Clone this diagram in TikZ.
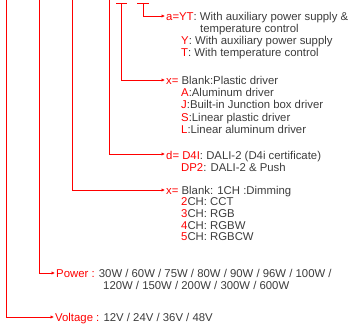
\documentclass[tikz,border=0pt]{standalone}
\usepackage{fontspec}
\setmainfont{Liberation Sans}
\usetikzlibrary{arrows.meta}
\definecolor{lred}{RGB}{255,0,0}
\definecolor{tgrey}{RGB}{60,60,60}
\newcommand{\R}[1]{\textcolor{lred}{#1}}
\tikzset{
  txt/.style={anchor=base west, inner sep=0pt, text=tgrey, font=\fontsize{11.35bp}{12bp}\selectfont},
  lead/.style={draw=lred, line width=1bp},
  leadarrow/.style={lead, -{Latex[length=3.5bp,width=3.5bp]}}
}
\begin{document}
\begin{tikzpicture}[x=1bp,y=-1bp]
\useasboundingbox (0,0) rectangle (351,329);
% start points
\coordinate (s6) at (6,0);
\coordinate (s5) at (39,0);
\coordinate (s4) at (72,0);
\coordinate (s3) at (109,0);
\coordinate (s2) at (121.5,3);
\coordinate (s1) at (143,3);
% tick marks
\coordinate (k1a) at (116,3);
\coordinate (k1b) at (127,3);
\coordinate (k2a) at (137,3);
\coordinate (k2b) at (149,3);
\draw[lead] (k1a) -- (k1b);
\draw[lead] (k2a) -- (k2b);
% arrow tips
\coordinate (e1) at (165,16);
\coordinate (e2) at (165,80);
\coordinate (e3) at (165,154);
\coordinate (e4) at (165,190);
\coordinate (e5) at (55,273);
\coordinate (e6) at (54,317);
\draw[leadarrow] (s1) |- (e1);
\draw[leadarrow] (s2) |- (e2);
\draw[leadarrow] (s3) |- (e3);
\draw[leadarrow] (s4) |- (e4);
\draw[leadarrow] (s5) |- (e5);
\draw[leadarrow] (s6) |- (e6);
% block a
\node[txt] (a1) at (166,20) {\R{a=YT}: With auxiliary power supply \&};
\node[txt] (a2) at (200,32) {temperature control};
\node[txt] (a3) at (181,44) {\R{Y}: With auxiliary power supply};
\node[txt] (a4) at (181,56) {\R{T}: With temperature control};
% block x (driver)
\node[txt] (b1) at (166,84.5) {\R{x=} Blank:Plastic driver};
\node[txt] (b2) at (181,96.7) {\R{A}:Aluminum driver};
\node[txt] (b3) at (181,108.9) {\R{J}:Built-in Junction box driver};
\node[txt] (b4) at (181,121.1) {\R{S}:Linear plastic driver};
\node[txt] (b5) at (181,133.3) {\R{L}:Linear aluminum driver};
% block d
\node[txt] (c1) at (166,159) {\R{d= D4I}: DALI-2 (D4i certificate)};
\node[txt] (c2) at (181,171) {\R{DP2}: DALI-2 \& Push};
% block x (channels)
\node[txt] (d1) at (166,194) {\R{x=} Blank: 1CH :Dimming};
\node[txt] (d2) at (181,205.7) {\R{2}CH: CCT};
\node[txt] (d3) at (181,217.4) {\R{3}CH: RGB};
\node[txt] (d4) at (181,229.1) {\R{4}CH: RGBW};
\node[txt] (d5) at (181,240.8) {\R{5}CH: RGBCW};
% power
\node[txt] (p1) at (56,277) {\R{Power :} 30W / 60W / 75W / 80W / 90W / 96W / 100W /};
\node[txt] (p2) at (103,289) {120W / 150W / 200W / 300W / 600W};
% voltage
\node[txt] (v1) at (55,321.3) {\R{Voltage :} 12V / 24V / 36V / 48V};
\end{tikzpicture}
\end{document}
